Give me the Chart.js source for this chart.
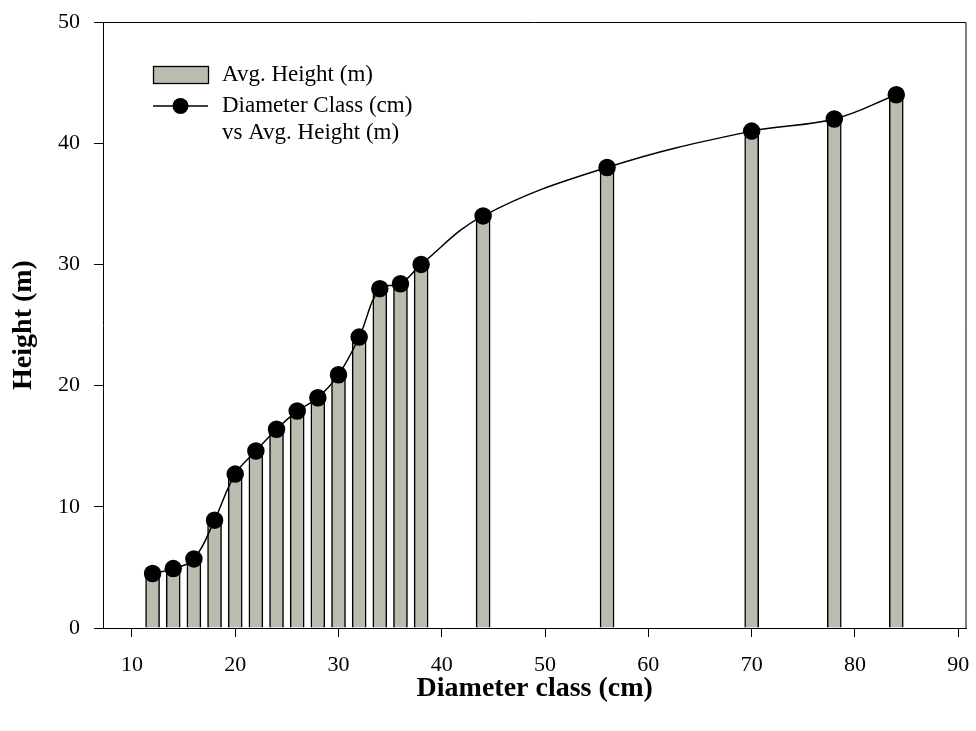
<!DOCTYPE html>
<html>
<head>
<meta charset="utf-8">
<script src="https://cdn.jsdelivr.net/npm/chart.js@4.4.1/dist/chart.umd.min.js"></script>
<style>
  html, body { margin: 0; padding: 0; background: #fff; }
  #wrap { width: 976px; height: 731px; }
</style>
</head>
<body>
<div id="wrap"><canvas id="heightChart" width="976" height="731"></canvas></div>
<script>
// Data
const diameterClass = [12, 14, 16, 18, 20, 22, 24, 26, 28, 30, 32, 34, 36, 38, 44, 56, 70, 78, 84];
const avgHeight = [4.5, 4.9, 5.7, 8.9, 12.7, 14.6, 16.4, 17.9, 19.0, 20.9, 24.0, 28.0, 28.4, 30.0, 34.0, 38.0, 41.0, 42.0, 44.0];
const xTicks = [10, 20, 30, 40, 50, 60, 70, 80, 90];
const yTicks = [0, 10, 20, 30, 40, 50];
const legendLabels = ['Avg. Height (m)', 'Diameter Class (cm)', 'vs Avg. Height (m)'];

const points = diameterClass.map((d, i) => ({ x: d, y: avgHeight[i] }));

const serif = "'Liberation Serif', 'Times New Roman', serif";
const barFill = '#bbbbaf';

//Top and right frame lines
const framePlugin = {
    id: 'frame',
    afterDraw(chart) {
        const { ctx, chartArea: a } = chart;
        ctx.save();
        ctx.strokeStyle = '#000';
        ctx.lineWidth = 1;
        ctx.beginPath();
        ctx.moveTo(a.left, a.top + 0.5);
        ctx.lineTo(a.right - 0.5, a.top + 0.5);
        ctx.lineTo(a.right - 0.5, a.bottom);
        ctx.stroke();
        ctx.restore();
    }
};

//Legend inside the plot, top left
const legendPlugin = {
    id: 'innerLegend',
    afterDraw(chart) {
        const { ctx } = chart;
        ctx.save();
        ctx.fillStyle = barFill;
        ctx.strokeStyle = '#000';
        ctx.lineWidth = 1.3;
        ctx.fillRect(153, 66, 55, 17);
        ctx.strokeRect(153.5, 66.5, 55, 17);

        ctx.lineWidth = 1.5;
        ctx.beginPath();
        ctx.moveTo(153, 106);
        ctx.lineTo(208, 106);
        ctx.stroke();
        ctx.fillStyle = '#000';
        ctx.beginPath();
        ctx.arc(180.5, 106, 8, 0, Math.PI * 2);
        ctx.fill();

        ctx.font = '23px ' + serif;
        ctx.textBaseline = 'middle';
        ctx.textAlign = 'left';
        ctx.fillText(legendLabels[0], 222, 75);
        ctx.fillText(legendLabels[1], 222, 106);
        ctx.fillText(legendLabels[2], 222, 133);
        ctx.restore();
    }
};

const ctx = document.getElementById('heightChart').getContext('2d');
const chart = new Chart(ctx, {
    data: {
        datasets: [{
            type: 'line',
            label: 'Diameter Class (cm) vs Avg. Height (m)',
            data: points,
            borderColor: '#000',
            borderWidth: 1.5,
            tension: 0.4,
            pointRadius: 8,
            pointBackgroundColor: '#000',
            pointBorderColor: '#000',
            order: 0
        }, {
            type: 'bar',
            label: 'Avg. Height (m)',
            data: points,
            backgroundColor: barFill,
            borderColor: '#000',
            borderWidth: 1.5,
            barThickness: 14,
            order: 1
        }]
    },
    options: {
        responsive: false,
        animation: false,
        layout: { padding: { left: 0, top: 22, right: 6, bottom: 0 } },
        plugins: {
            legend: { display: false },
            tooltip: { enabled: false }
        },
        scales: {
            x: {
                type: 'linear',
                min: 7.2,
                max: 90.8,
                offset: false,
                afterBuildTicks: (scale) => { scale.ticks = xTicks.map(v => ({ value: v })); },
                afterFit: (scale) => {
                    scale.height = 103;
                    scale.paddingLeft = 0;
                    scale.paddingRight = 0;
                },
                grid: { offset: false, drawOnChartArea: false, color: '#000', tickLength: 9, lineWidth: 1 },
                border: { display: true, color: '#000', width: 1 },
                ticks: { color: '#000', font: { family: serif, size: 22 }, padding: 15, maxRotation: 0 },
                title: {
                    display: true,
                    text: 'Diameter class (cm)',
                    color: '#000',
                    font: { family: serif, size: 28, weight: 'bold' },
                    padding: { top: 0, bottom: 25 }
                }
            },
            y: {
                type: 'linear',
                min: 0,
                max: 50,
                afterBuildTicks: (scale) => { scale.ticks = yTicks.map(v => ({ value: v })); },
                afterFit: (scale) => {
                    scale.width = 103;
                    scale.paddingTop = 0;
                    scale.paddingBottom = 0;
                },
                grid: { drawOnChartArea: false, color: '#000', tickLength: 9, lineWidth: 1 },
                border: { display: true, color: '#000', width: 1 },
                ticks: { color: '#000', font: { family: serif, size: 22 }, padding: 14 },
                title: {
                    display: true,
                    text: 'Height (m)',
                    color: '#000',
                    font: { family: serif, size: 28, weight: 'bold' },
                    padding: { top: 7, bottom: 0 }
                }
            }
        }
    },
    plugins: [framePlugin, legendPlugin]
});
</script>
</body>
</html>
